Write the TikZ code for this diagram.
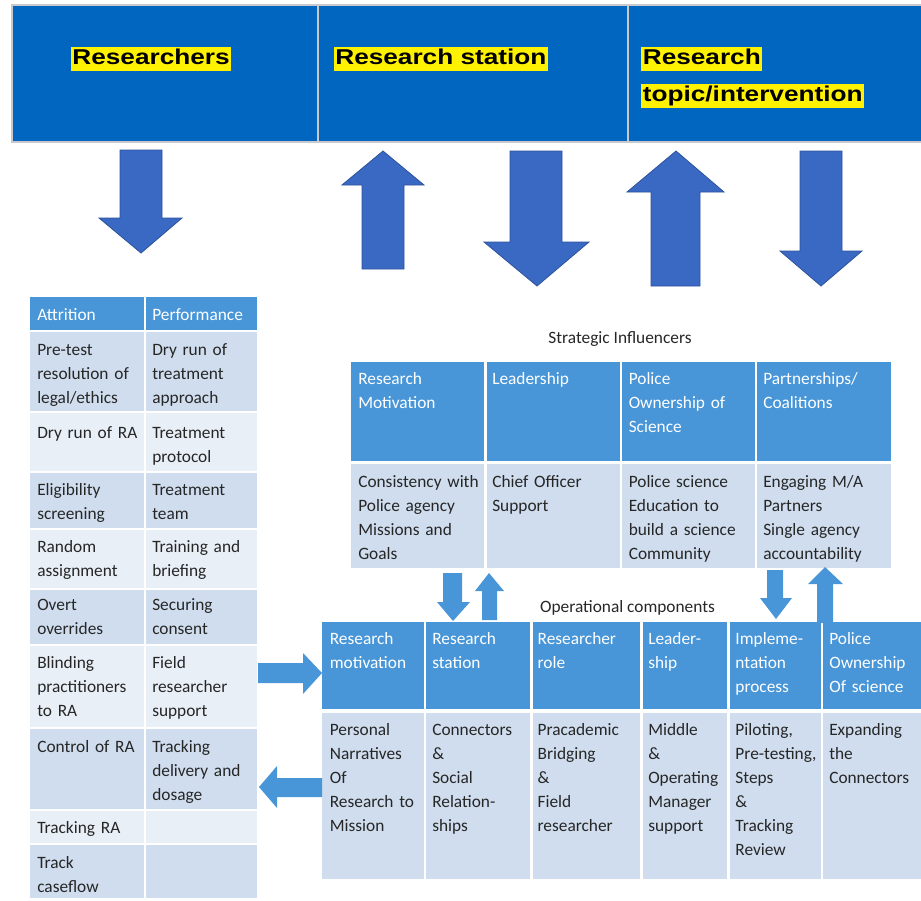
\documentclass[tikz,border=0pt]{standalone}
\usepackage{fontspec}
\setmainfont{Carlito}
\newfontfamily\bandfont[FakeStretch=1.22]{Liberation Sans}
\definecolor{bandblue}{RGB}{0,102,192}
\definecolor{bandline}{RGB}{200,200,205}
\definecolor{bigblue}{RGB}{58,105,196}
\definecolor{bigedge}{RGB}{45,82,155}
\definecolor{hdrblue}{RGB}{72,150,216}
\definecolor{rowA}{RGB}{207,221,238}
\definecolor{rowB}{RGB}{233,239,247}
\begin{document}
\begin{tikzpicture}[x=0.75pt, y=-0.75pt, font=\fontsize{13}{18}\selectfont,
    cell/.style={anchor=base west, align=left, text width=105pt, inner sep=0pt, text=black!85},
    hcell/.style={cell, text=white},
    hl/.style={fill=yellow, anchor=base west, inner xsep=1.2pt, inner ysep=0.8pt,
        text height=12pt, text depth=4.5pt, font=\bandfont\bfseries\fontsize{16.1}{19}\selectfont},
    bigarrow/.style={fill=bigblue, draw=bigedge, line width=0.6pt},
    smallarrow/.style={fill=hdrblue}]
    \useasboundingbox (0,0) rectangle (921,900);

    % top band
    \fill[bandblue] (12,5) rectangle (930,142);
    \draw[bandline, line width=0.8pt] (12,5) rectangle (930,142);
    \draw[bandline, line width=0.8pt] (318,5) -- (318,142);
    \draw[bandline, line width=0.8pt] (628,5) -- (628,142);
    \node[hl] (rsr) at (70.6,64) {Researchers};
    \node[hl] (rst) at (333.5,64) {Research station};
    \node[hl] (rtp1) at (641,64) {Research};
    \node[hl] (rtp2) at (641,101.3) {topic/intervention};

    % big arrows
    \draw[bigarrow] (120,150) -- (162,150) -- (162,218) -- (182,218) -- (141,253)
        -- (99,218) -- (120,218) -- cycle;
    \draw[bigarrow] (383,151) -- (424,185) -- (404,185) -- (404,269) -- (362,269)
        -- (362,185) -- (342,185) -- cycle;
    \draw[bigarrow] (510,151) -- (562,151) -- (562,242) -- (589,242) -- (537,286)
        -- (484,242) -- (510,242) -- cycle;
    \draw[bigarrow] (676,151) -- (724,192) -- (700,192) -- (700,286) -- (651,286)
        -- (651,192) -- (627,192) -- cycle;
    \draw[bigarrow] (800,151) -- (842,151) -- (842,251) -- (862,251) -- (821,286)
        -- (780,251) -- (800,251) -- cycle;

    % left table
    \foreach \ya/\yb/\c in {297/330/hdrblue, 332/411/rowA, 413/471/rowB, 473/528/rowA,
        530/588/rowB, 590/644/rowA, 646/727/rowB, 729/809/rowA, 811/843/rowB, 845/898/rowA} {
        \fill[fill=\c] (30,\ya) rectangle (144,\yb);
        \fill[fill=\c] (146,\ya) rectangle (257,\yb);
    }
    \node[hcell] (attH) at (37,320.5) {Attrition};
    \node[hcell] (perfH) at (152,320.5) {Performance};
    \node[cell] (att1) at (37,355) {Pre-test\\resolution of\\legal/ethics};
    \node[cell] (perf1) at (152,355) {Dry run of\\treatment\\approach};
    \node[cell] (att2) at (37,438.5) {Dry run of RA};
    \node[cell] (perf2) at (152,438.5) {Treatment\\protocol};
    \node[cell] (att3) at (37,495.5) {Eligibility\\screening};
    \node[cell] (perf3) at (152,495.5) {Treatment\\team};
    \node[cell] (att4) at (37,552) {Random\\assignment};
    \node[cell] (perf4) at (152,552) {Training and\\briefing};
    \node[cell] (att5) at (37,610.5) {Overt\\overrides};
    \node[cell] (perf5) at (152,610.5) {Securing\\consent};
    \node[cell] (att6) at (37,668.5) {Blinding\\practitioners\\to RA};
    \node[cell] (perf6) at (152,668.5) {Field\\researcher\\support};
    \node[cell] (att7) at (37,752) {Control of RA};
    \node[cell] (perf7) at (152,752) {Tracking\\delivery and\\dosage};
    \node[cell] (att8) at (37,833.5) {Tracking RA};
    \node[cell] (att9) at (37,868.5) {Track\\caseflow};

    % strategic influencers
    \node[anchor=base, text=black!85] (strat) at (620,343.5) {Strategic Influencers};
    \foreach \xa/\xb in {351/484, 487/620, 622/755, 757/891} {
        \fill[hdrblue] (\xa,362) rectangle (\xb,461);
        \fill[rowA] (\xa,464) rectangle (\xb,568);
    }
    \node[hcell] (sH1) at (358,384) {Research\\Motivation};
    \node[hcell] (sH2) at (492,384) {Leadership};
    \node[hcell] (sH3) at (628.5,384) {Police\\Ownership of\\Science};
    \node[hcell] (sH4) at (763,384) {Partnerships/\\Coalitions};
    \node[cell] (sB1) at (358,487) {Consistency with\\Police agency\\Missions and\\Goals};
    \node[cell] (sB2) at (492,487) {Chief Officer\\Support};
    \node[cell] (sB3) at (628.5,487) {Police science\\Education to\\build a science\\Community};
    \node[cell] (sB4) at (763,487) {Engaging M/A\\Partners\\Single agency\\accountability};

    % operational components
    \node[anchor=base, text=black!85] (oper) at (627.5,612.5) {Operational components};
    \foreach \xa/\xb in {322/424, 426/530, 533/640, 643/727, 730/821, 823/925} {
        \fill[hdrblue] (\xa,622) rectangle (\xb,709);
        \fill[rowA] (\xa,713) rectangle (\xb,879);
    }
    \node[hcell] (oH1) at (329.6,644) {Research\\motivation};
    \node[hcell] (oH2) at (432,644) {Research\\station};
    \node[hcell] (oH3) at (537.4,644) {Researcher\\role};
    \node[hcell] (oH4) at (648,644) {Leader-\\ship};
    \node[hcell] (oH5) at (735.2,644) {Impleme-\\ntation\\process};
    \node[hcell] (oH6) at (829,644) {Police\\Ownership\\Of science};
    \node[cell] (oB1) at (329.6,735) {Personal\\Narratives\\Of\\Research to\\Mission};
    \node[cell] (oB2) at (432,735) {Connectors\\\&\\Social\\Relation-\\ships};
    \node[cell] (oB3) at (537.4,735) {Pracademic\\Bridging\\\&\\Field\\researcher};
    \node[cell] (oB4) at (648,735) {Middle\\\&\\Operating\\Manager\\support};
    \node[cell] (oB5) at (735.2,735) {Piloting,\\Pre-testing,\\Steps\\\&\\Tracking\\Review};
    \node[cell] (oB6) at (829,735) {Expanding\\the\\Connectors};

    % small arrows
    \fill[smallarrow] (443,573) -- (462,573) -- (462,602) -- (470,602) -- (453,621)
        -- (437,602) -- (443,602) -- cycle;
    \fill[smallarrow] (489,573) -- (504,591) -- (497,591) -- (497,620) -- (482,620)
        -- (482,591) -- (475,591) -- cycle;
    \fill[smallarrow] (767,570) -- (783,570) -- (783,598) -- (792,598) -- (776,619)
        -- (760,598) -- (767,598) -- cycle;
    \fill[smallarrow] (825,567) -- (843,584) -- (833,584) -- (833,623) -- (817,623)
        -- (817,584) -- (808,584) -- cycle;
    \fill[smallarrow] (258,663) -- (303,663) -- (303,653) -- (322,673) -- (303,694)
        -- (303,683) -- (258,683) -- cycle;
    \fill[smallarrow] (259,787) -- (277,766) -- (277,778) -- (322,778) -- (322,797)
        -- (277,797) -- (277,808) -- cycle;
\end{tikzpicture}
\end{document}
